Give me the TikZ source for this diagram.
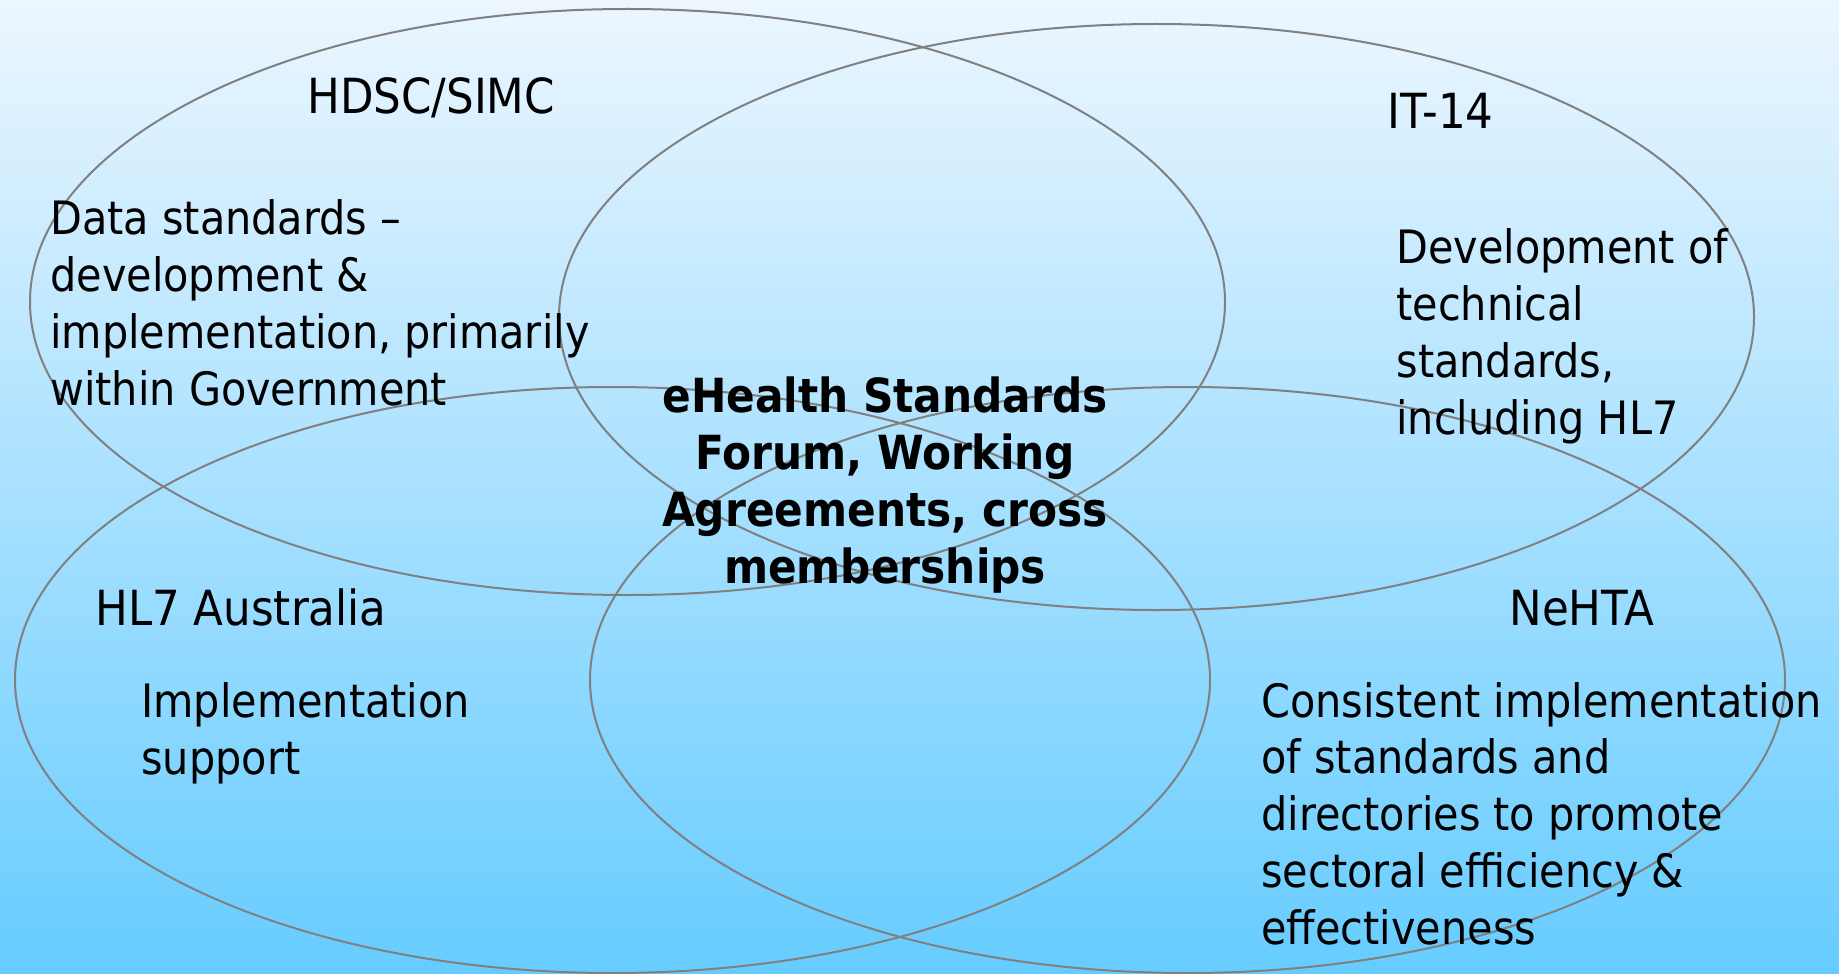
\documentclass[tikz,border=0pt]{standalone}
\usepackage{fontspec}
\setmainfont{DejaVu Sans Condensed}
\usetikzlibrary{shapes.geometric}

\definecolor{skytop}{RGB}{236,246,255}
\definecolor{skybot}{RGB}{102,204,255}
\definecolor{vennline}{RGB}{128,128,128}

\begin{document}
\begin{tikzpicture}[x=0.5pt,y=-0.5pt]
\tikzstyle{venn}=[ellipse,draw=vennline,line width=1pt,minimum width=597.5pt,minimum height=293pt,inner sep=0pt]
\tikzstyle{head}=[anchor=base west,inner sep=0pt,font=\fontsize{24.2}{28.35}\selectfont]
% multi-line nodes sit on the baseline of their last line
\tikzstyle{body}=[anchor=base west,align=left,inner sep=0pt,font=\fontsize{23}{28.35}\selectfont]
\tikzstyle{core}=[anchor=base,align=center,inner sep=0pt,font=\fontsize{23.5}{28.35}\selectfont\bfseries]

% sky background
\shade[top color=skytop,bottom color=skybot] (0,0) rectangle (1839,973);
\useasboundingbox (0,0) rectangle (1839,973);

% the four bodies
\begin{scope}
\clip (0,0) rectangle (1839,973);
\node at(627.5,302)(hdsc) [venn]{};
\node at(1156.5,317)(it14) [venn]{};
\node at(612.5,680)(hl7) [venn]{};
\node at(1187.5,680)(nehta) [venn]{};
\end{scope}

\node at(307,114)(hdscName) [head]{HDSC/SIMC};
\node at(50,405)(hdscRole) [body]{Data standards --\\development \&\\implementation, primarily\\within Government};

\node at(1387,129)(itName) [head]{IT-14};
\node at(1396,434)(itRole) [body]{Development of\\technical\\standards,\\including HL7};

\node at(95,625)(hlName) [head]{HL7 Australia};
\node at(141,774)(hlRole) [body]{Implementation\\support};

\node at(1509,625)(nehtaName) [head]{NeHTA};
\node at(1261,944)(nehtaRole) [body]{Consistent implementation\\of standards and\\directories to promote\\sectoral efficiency \&\\effectiveness};

% shared ground in the middle
\node at(885,583)(forum) [core]{eHealth Standards\\Forum, Working\\Agreements, cross\\memberships};
\end{tikzpicture}
\end{document}
